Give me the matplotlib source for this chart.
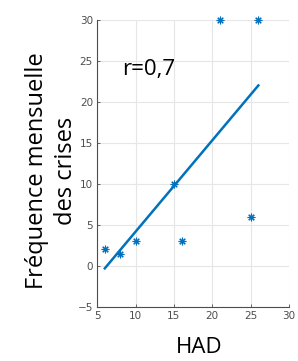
import matplotlib
matplotlib.use('Agg')
import matplotlib.pyplot as plt
import numpy as np

# data
had = [6, 8, 10, 15, 16, 25, 21, 26]
freq = [2, 1.5, 3, 10, 3, 6, 30, 30]
fit_x = [6, 26]
fit_y = [-0.3, 22]
xticks = [5, 10, 15, 20, 25, 30]
yticks = [-5, 0, 5, 10, 15, 20, 25, 30]

blue = '#0072BD'
grey = '#4d4d4d'

fig = plt.figure(figsize=(2.98, 3.61), dpi=100)
ax = fig.add_axes([0.326, 0.150, 0.644, 0.795])

ax.plot(fit_x, fit_y, color=blue, lw=1.8)
ax.plot(had, freq, linestyle='none', marker=(8, 2, 0), color=blue, markersize=5.5,
        markeredgewidth=0.8, clip_on=False)

ax.set_xlim(5, 30)
ax.set_ylim(-5, 30)
ax.set_xticks(xticks)
ax.set_yticks(yticks)
ax.grid(True, color='#e6e6e6', lw=0.8)
ax.set_axisbelow(True)

for s in ['top', 'right']:
    ax.spines[s].set_visible(False)
for s in ['left', 'bottom']:
    ax.spines[s].set_color(grey)
    ax.spines[s].set_linewidth(0.8)
ax.tick_params(direction='in', length=2.5, width=0.6, colors=grey, labelsize=7.5, pad=3)

ax.text(8.3, 24, 'r=0,7', fontsize=16, family='Open Sans', color='black', va='center')

ax.set_xlabel('HAD', fontsize=16, family='Open Sans')
ax.xaxis.set_label_coords(0.53, -0.105)
ax.set_ylabel('Fréquence mensuelle\ndes crises', fontsize=17, family='Open Sans',
              linespacing=1.3)
ax.yaxis.set_label_coords(-0.1, 0.474)

fig.savefig('out.png', dpi=100)
